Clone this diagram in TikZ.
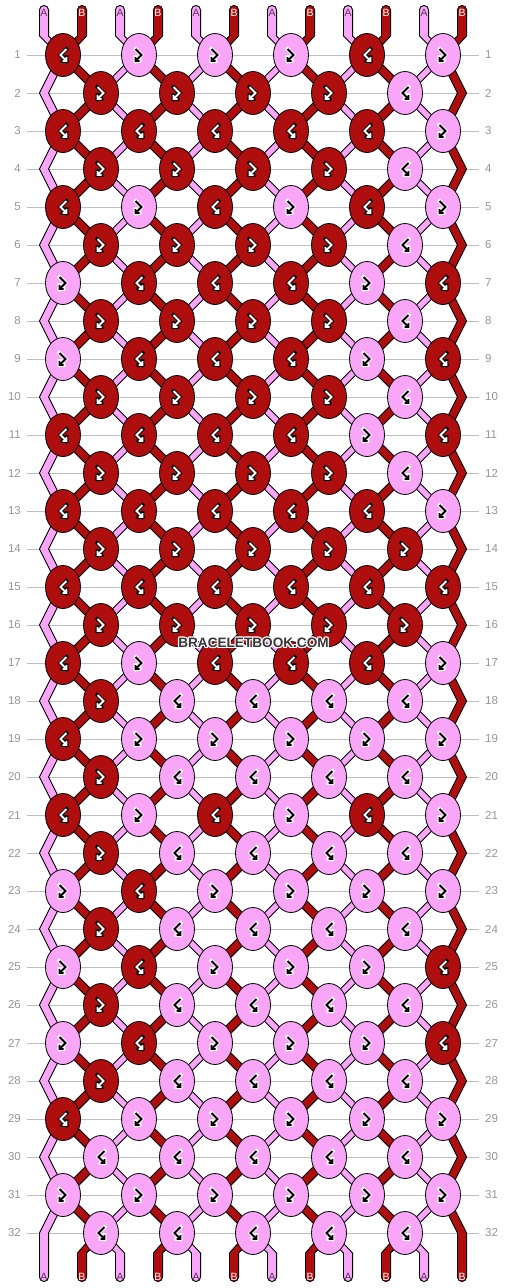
\documentclass[tikz,border=0pt]{standalone}
\usepackage{fontspec}
\setmainfont{Liberation Sans}
\usetikzlibrary{shapes.geometric}
\definecolor{pinkc}{RGB}{250,166,248}
\definecolor{darkc}{RGB}{174,14,14}
\definecolor{gridc}{RGB}{190,190,190}
\definecolor{numc}{RGB}{150,150,150}
\definecolor{labA}{RGB}{85,55,85}
\definecolor{wmc}{RGB}{55,55,55}
\pgfdeclarelayer{bglayer}
\pgfdeclarelayer{gridlayer}
\pgfdeclarelayer{stringlayer}
\pgfsetlayers{bglayer,gridlayer,stringlayer,main}
\tikzset{
  knot/.style={ellipse, draw=black, line width=0.8pt, minimum width=35pt, minimum height=43pt, inner sep=0pt},
  strside/.style={draw=black, line width=0.9pt, line join=miter},
  gridline/.style={draw=gridc, line width=1pt},
  numlab/.style={text=numc, font=\fontsize{11.5}{12}\selectfont, inner sep=0pt},
  letA/.style={text=labA, font=\fontsize{10.5}{11}\selectfont, inner sep=0pt},
  letB/.style={text=white, font=\fontsize{10.5}{11}\selectfont, inner sep=0pt},
  wmtext/.style={font=\fontsize{13.6}{14}\selectfont\bfseries, inner sep=0pt},
  fbglyph/.pic={
    \draw[draw=\oc, line width=3.8pt, line cap=rect] (-3.5,-6) -- (2.5,0) -- (-3.5,6) (-3.5,2) -- (-3.5,6) -- (0.5,6);
    \draw[draw=\gc, line width=1.8pt] (-3.5,-6) -- (2.5,0) -- (-3.5,6) (-3.5,2) -- (-3.5,6) -- (0.5,6);
  },
  bfglyph/.pic={
    \draw[draw=\oc, line width=3.8pt, line cap=rect] (3.5,-6) -- (-2.5,0) -- (3.5,6) (3.5,2) -- (3.5,6) -- (-0.5,6);
    \draw[draw=\gc, line width=1.8pt] (3.5,-6) -- (-2.5,0) -- (3.5,6) (3.5,2) -- (3.5,6) -- (-0.5,6);
  }
}
% string strip of constant horizontal half-width #2 between #3 and #4
\newcommand\strtwo[4]{%
  \fill[#1] ([xshift=-#2]#3) -- ([xshift=-#2]#4) -- ([xshift=#2]#4) -- ([xshift=#2]#3) -- cycle;
  \draw[strside] ([xshift=-#2]#3) -- ([xshift=-#2]#4) ([xshift=#2]#3) -- ([xshift=#2]#4);
}
% edge chevron through three points
\newcommand\strthree[4]{%
  \fill[#1] ([xshift=-4.55pt]#2) -- ([xshift=-4.55pt]#3) -- ([xshift=-4.55pt]#4) -- ([xshift=4.55pt]#4) -- ([xshift=4.55pt]#3) -- ([xshift=4.55pt]#2) -- cycle;
  \draw[strside] ([xshift=-4.55pt]#2) -- ([xshift=-4.55pt]#3) -- ([xshift=-4.55pt]#4) ([xshift=4.55pt]#2) -- ([xshift=4.55pt]#3) -- ([xshift=4.55pt]#4);
}
% free end: round tip #3, bend #4, knot #5, half-width at knot #2
\newcommand\strend[5]{%
  \filldraw[fill=#1, draw=black, line width=0.9pt] (#3) circle[radius=4.55pt];
  \fill[#1] ([xshift=-4.55pt]#3) -- ([xshift=-4.55pt]#4) -- ([xshift=-#2]#5) -- ([xshift=#2]#5) -- ([xshift=4.55pt]#4) -- ([xshift=4.55pt]#3) -- cycle;
  \draw[strside] ([xshift=-4.55pt]#3) -- ([xshift=-4.55pt]#4) -- ([xshift=-#2]#5) ([xshift=4.55pt]#3) -- ([xshift=4.55pt]#4) -- ([xshift=#2]#5);
}
\begin{document}
\begin{tikzpicture}[x=1pt,y=-1pt]
\useasboundingbox (0,0) rectangle (506,1288);
\begin{pgfonlayer}{bglayer}
\fill[white] (0,0) rectangle (506,1288);
\end{pgfonlayer}

% row labels and grid lines
\foreach \r in {1,...,32}{
  \pgfmathsetmacro\yy{55+38*(\r-1)}
  \node[numlab, anchor=east] (nl-\r) at (21,\yy) {\r};
  \node[numlab, anchor=west] (nr-\r) at (485,\yy) {\r};
  \coordinate (gl-\r) at (27,\yy);
  \coordinate (gr-\r) at (479,\yy);
  \begin{pgfonlayer}{gridlayer}
  \draw[gridline] (gl-\r) -- (gr-\r);
  \end{pgfonlayer}
}

% edge points
\foreach \r in {2,4,...,32}{
  \pgfmathsetmacro\yy{55+38*(\r-1)}
  \coordinate (eL-\r) at (44,\yy);
  \coordinate (eR-\r) at (462,\yy);
}
% string end points
\foreach \i in {1,...,12}{
  \pgfmathsetmacro\xs{44+38*(\i-1)}
  \coordinate (tt-\i) at (\xs,10);
  \coordinate (tb-\i) at (\xs,36);
  \coordinate (bb-\i) at (\xs,1253);
  \coordinate (bt-\i) at (\xs,1277);
}

% knots
\foreach \r/\pat in {
1/{1,0,0,0,1,0},
2/{1,1,1,1,0},
3/{1,1,1,1,1,0},
4/{1,1,1,1,0},
5/{1,0,1,0,1,0},
6/{1,1,1,1,0},
7/{0,1,1,1,0,1},
8/{1,1,1,1,0},
9/{0,1,1,1,0,1},
10/{1,1,1,1,0},
11/{1,1,1,1,0,1},
12/{1,1,1,1,0},
13/{1,1,1,1,1,0},
14/{1,1,1,1,1},
15/{1,1,1,1,1,1},
16/{1,1,1,1,1},
17/{1,0,1,1,1,0},
18/{1,0,0,0,0},
19/{1,0,0,0,0,0},
20/{1,0,0,0,0},
21/{1,0,1,0,1,0},
22/{1,0,0,0,0},
23/{0,1,0,0,0,0},
24/{1,0,0,0,0},
25/{0,1,0,0,0,1},
26/{1,0,0,0,0},
27/{0,1,0,0,0,1},
28/{1,0,0,0,0},
29/{1,0,0,0,0,0},
30/{0,0,0,0,0},
31/{0,0,0,0,0,0},
32/{0,0,0,0,0}}{
  \pgfmathsetmacro\yy{55+38*(\r-1)}
  \pgfmathtruncatemacro\od{mod(\r,2)}
  \foreach \v [count=\c] in \pat {
    \ifnum\od=1 \pgfmathsetmacro\xx{63+76*(\c-1)}\else\pgfmathsetmacro\xx{101+76*(\c-1)}\fi
    \ifnum\v=1 \def\kc{darkc}\def\gc{white}\def\oc{black}\else\def\kc{pinkc}\def\gc{black}\def\oc{white}\fi
    \node[knot, fill=\kc] (k-\r-\c) at (\xx,\yy) {};
    \pgfmathtruncatemacro\gt{\od+\v}
    \ifnum\gt=1 \pic at (k-\r-\c.center) {fbglyph};\else \pic at (k-\r-\c.center) {bfglyph};\fi
  }
}

% strings
\begin{pgfonlayer}{stringlayer}
\foreach \r in {1,3,...,31}{
  \pgfmathtruncatemacro\rn{\r+1}
  \foreach \c in {1,...,5}{
    \pgfmathtruncatemacro\cn{\c+1}
    \strtwo{darkc}{6.1pt}{k-\r-\c.center}{k-\rn-\c.center}
    \strtwo{pinkc}{4.7pt}{k-\r-\cn.center}{k-\rn-\c.center}
  }
}
\foreach \r in {2,4,...,30}{
  \pgfmathtruncatemacro\rn{\r+1}
  \pgfmathtruncatemacro\rp{\r-1}
  \foreach \c in {1,...,5}{
    \pgfmathtruncatemacro\cn{\c+1}
    \strtwo{darkc}{6.1pt}{k-\r-\c.center}{k-\rn-\c.center}
    \strtwo{pinkc}{4.7pt}{k-\r-\c.center}{k-\rn-\cn.center}
  }
  \strthree{pinkc}{k-\rp-1.center}{eL-\r}{k-\rn-1.center}
  \strthree{darkc}{k-\rp-6.center}{eR-\r}{k-\rn-6.center}
}
% top ends
\foreach \c in {1,...,6}{
  \pgfmathtruncatemacro\ia{2*\c-1}
  \pgfmathtruncatemacro\ib{2*\c}
  \strend{pinkc}{4.7pt}{tt-\ia}{tb-\ia}{k-1-\c.center}
  \strend{darkc}{6.1pt}{tt-\ib}{tb-\ib}{k-1-\c.center}
}
% bottom ends
\strend{pinkc}{4.55pt}{bt-1}{eL-32}{k-31-1.center}
\strend{darkc}{4.55pt}{bt-12}{eR-32}{k-31-6.center}
\foreach \c in {1,...,5}{
  \pgfmathtruncatemacro\ib{2*\c}
  \pgfmathtruncatemacro\ia{2*\c+1}
  \strend{darkc}{6.1pt}{bt-\ib}{bb-\ib}{k-32-\c.center}
  \strend{pinkc}{4.7pt}{bt-\ia}{bb-\ia}{k-32-\c.center}
}
\end{pgfonlayer}

% string letters
\foreach \c in {1,...,6}{
  \pgfmathsetmacro\xa{44+76*(\c-1)}
  \pgfmathsetmacro\xb{82+76*(\c-1)}
  \node[letA] (ta-\c) at (\xa,12.5) {A};
  \node[letB] (tbl-\c) at (\xb,12.5) {B};
  \node[letA] (ba-\c) at (\xa,1276.5) {A};
  \node[letB] (bbl-\c) at (\xb,1276.5) {B};
}

% watermark
\foreach \dx/\dy in {-1.2/0,1.2/0,0/-1.2,0/1.2,-0.9/-0.9,0.9/0.9,-0.9/0.9,0.9/-0.9}{
  \node[wmtext, text=white] at (253.5+\dx,643+\dy) {BRACELETBOOK.COM};
}
\node[wmtext, text=wmc] (wm) at (253.5,643) {BRACELETBOOK.COM};
\end{tikzpicture}
\end{document}
